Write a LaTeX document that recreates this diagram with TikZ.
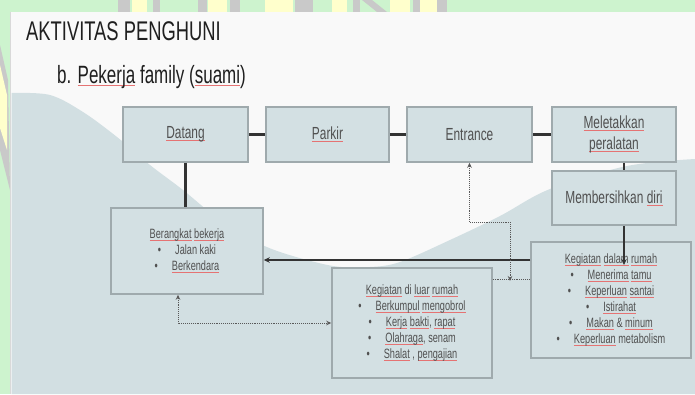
\documentclass[tikz,border=0pt]{standalone}
\usepackage{fontspec}
\setmainfont{Liberation Sans}[FakeStretch=0.68]
\usetikzlibrary{arrows.meta}
\definecolor{slidebg}{HTML}{F9F9F9}
\definecolor{wave}{HTML}{D2DFE2}
\definecolor{boxfill}{HTML}{D3E0E3}
\definecolor{boxline}{HTML}{9FAAAD}
\definecolor{txt}{HTML}{505050}
\definecolor{wmgreen}{HTML}{CDF3CE}
\definecolor{wmyellow}{HTML}{FFFFCC}
\definecolor{wmgray}{HTML}{C9C9C9}
\definecolor{sqred}{HTML}{E57373}
\newsavebox\sqbox
\newcommand\sq[1]{\sbox\sqbox{#1}\leavevmode\rlap{\textcolor{sqred}{\rule[-2.2pt]{\wd\sqbox}{0.6pt}}}\usebox\sqbox}
\newcommand\bl{\textbullet\hspace{14pt}}
\begin{document}
\begin{tikzpicture}[x=1pt,y=-1pt,
  box/.style={draw=boxline, line width=1.5pt, fill=boxfill, inner sep=0pt, text=txt, align=center},
  big/.style={box, font=\fontsize{17.5}{21}\selectfont},
  small/.style={box, font=\fontsize{13.5}{16}\selectfont},
  link/.style={draw=black!80, line width=2.2pt},
  dots/.style={draw=black!65, line width=0.9pt, densely dotted},
  tip/.style={-{Stealth[length=6pt,width=5.5pt]}},
  dtip/.style={{Stealth[length=5pt,width=4.5pt]}-{Stealth[length=5pt,width=4.5pt]}}]
\useasboundingbox (0,0) rectangle (695,394);
% watermark strips
\fill[wmgreen] (0,0) rectangle (695,394);
\foreach \a/\b in {132/147,208/227,265/293,332/347,390/410,420/437}
  \fill[wmyellow] (\a,0) rectangle (\b,12);
\foreach \a/\b in {118/130,153/160,198/207,230/240,295/313,353/360,413/420,437/447}
  \fill[wmgray] (\a,0) rectangle (\b,12);
\fill[wmgray] (362,0) -- (372,0) -- (387,12) -- (377,12) -- cycle;
\fill[wmgray] (0,45) -- (8,80) -- (10,190) -- (0,150) -- cycle;
\fill[wmyellow] (0,65) -- (7,95) -- (7,150) -- (0,128) -- cycle;
% slide
\fill[slidebg] (11,12) rectangle (695,394);
\draw[black!15, line width=1.2pt] (10.5,12) -- (10.5,394);
\fill[wave] (11.5,394) -- (11.5,93) -- plot[smooth, tension=0.55] coordinates {(11.5,93) (50,95) (83,112) (117,137) (150,165) (183,190) (217,218) (250,239) (283,253) (333,266) (370,267) (400,262) (450,240) (500,216) (550,189) (627,166) (695,159)} -- (695,394) -- cycle;
% titles
\node[anchor=base west, font=\fontsize{27}{32}\selectfont, text=black!88, inner sep=0pt] (title) at (26,40) {AKTIVITAS PENGHUNI};
\node[anchor=base west, font=\fontsize{25}{30}\selectfont, text=black!88, inner sep=0pt] (sub) at (57,83) {b. \sq{Pekerja} family (\sq{suami})};
% boxes
\node[big, minimum width=125pt, minimum height=55pt] (dat) at (185.5,134.5) {\sq{Datang}};
\node[big, minimum width=123pt, minimum height=55pt] (par) at (327.5,134.5) {\sq{Parkir}};
\node[big, minimum width=125pt, minimum height=55pt] (ent) at (469.5,134.5) {Entrance};
\node[big, minimum width=124pt, minimum height=55pt] (mel) at (614,134.5) {\sq{Meletakkan}\\\sq{peralatan}};
\node[big, minimum width=124pt, minimum height=54pt] (mem) at (614,198) {Membersihkan \sq{diri}};
\node[small, minimum width=152pt, minimum height=86pt] (bk) at (187,251) {\sq{Berangkat} \sq{bekerja}\\\bl Jalan kaki\\\bl\sq{Berkendara}};
\node[small, minimum width=160pt, minimum height=110pt] (luar) at (412,323) {\sq{Kegiatan} di \sq{luar} \sq{rumah}\\\bl\sq{Berkumpul} \sq{mengobrol}\\\bl\sq{Kerja} \sq{bakti}, \sq{rapat}\\\bl\sq{Olahraga}, senam\\\bl\sq{Shalat} , \sq{pengajian}};
\node[small, minimum width=160pt, minimum height=116pt] (dalam) at (611,300) {\sq{Kegiatan} \sq{dalam} \sq{rumah}\\\bl\sq{Menerima} \sq{tamu}\\\bl\sq{Keperluan} \sq{santai}\\\bl\sq{Istirahat}\\\bl\sq{Makan} \& \sq{minum}\\\bl\sq{Keperluan} metabolism};
% coordinates
\coordinate (xr) at (624,0);
\coordinate (endA) at (624,265);
\coordinate (hy) at (0,260);
\coordinate (d1) at (469.5,222);
\coordinate (d2) at (510,222);
\coordinate (d3) at (510,281);
\coordinate (jy) at (0,279);
\coordinate (e1) at (178,323);
% solid connectors
\draw[link] (dat) -- (par);
\draw[link] (par) -- (ent);
\draw[link] (ent) -- (mel);
\draw[link] (mel.south -| xr) -- (mem.north -| xr);
\draw[link] (dat.south) -- (dat.south |- bk.north);
\draw[link, tip] (dalam.west |- hy) -- (bk.east |- hy);
\draw[link, line width=1.8pt, tip] (mem.south -| xr) -- (endA);
% dotted connectors
\draw[dots, dtip] (ent.south) -- (d1) -- (d2) -- (d3);
\draw[dots] (luar.east |- jy) -- (dalam.west |- jy);
\draw[dots, dtip] (bk.south -| e1) -- (e1) -- (luar.west);
\end{tikzpicture}
\end{document}
